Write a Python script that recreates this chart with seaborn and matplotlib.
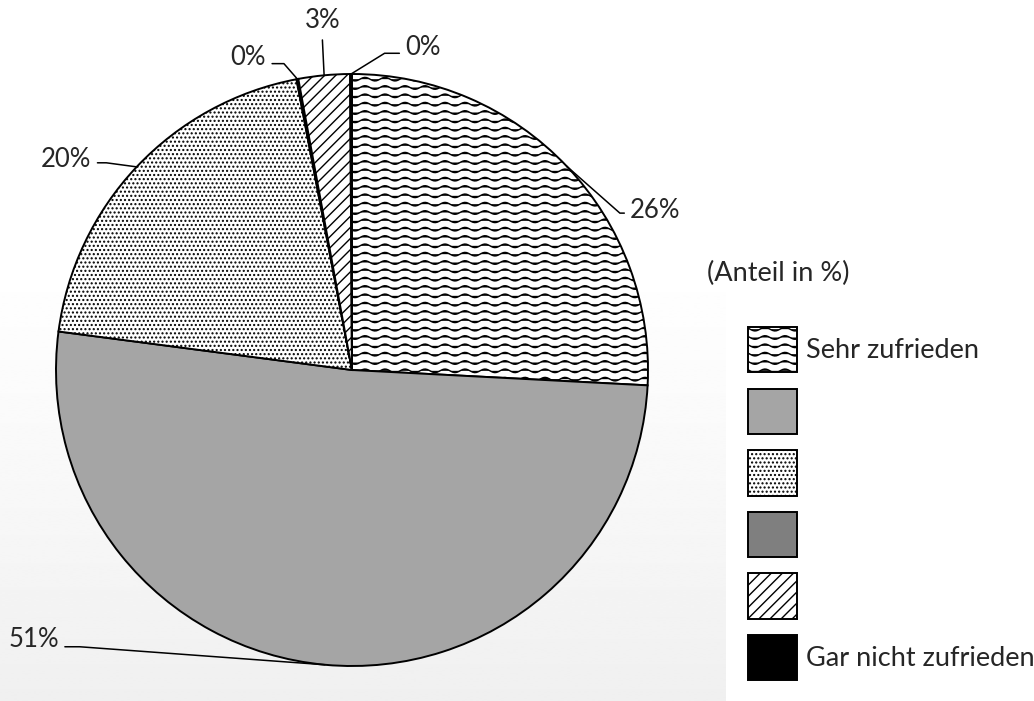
import warnings
import numpy as np
import seaborn as sns
import matplotlib.pyplot as plt
import matplotlib.hatch as mhatch
from matplotlib.path import Path
from matplotlib.patches import Patch

warnings.filterwarnings("ignore")

categories = ["Sehr zufrieden", "", "", "", "", "Gar nicht zufrieden"]
shares = [25.8, 51.2, 19.9, 0.1, 2.8, 0.1]
pct_labels = ["26%", "51%", "20%", "0%", "3%", "0%"]
colors = ["white", "#a5a5a5", "white", "#7f7f7f", "white", "black"]
hatches = ["~~", "", "....", "", "///", ""]

# label placement (data units, pie radius = 1): text pos, elbow, align
label_pos = [(0.94, 0.54), (-0.99, -0.91), (-0.88, 0.71), (-0.29, 1.055), (-0.10, 1.18), (0.18, 1.09)]
elbows = [(0.905, 0.53), (-0.92, -0.935), (-0.83, 0.70), (-0.23, 1.035), (-0.10, 1.115), (0.11, 1.07)]
aligns = ["left", "right", "right", "right", "center", "left"]


class WaveHatch(mhatch.HatchPatternBase):
    n_pts = 60
    n_waves = 5

    def __init__(self, hatch, density):
        self.num_lines = int(hatch.count("~") * density)
        self.num_vertices = self.num_lines * self.n_pts

    def set_vertices_and_codes(self, vertices, codes):
        t = np.linspace(0, 1, self.n_pts)
        for i in range(self.num_lines):
            y0 = (i + 0.5) / self.num_lines
            s = slice(i * self.n_pts, (i + 1) * self.n_pts)
            vertices[s, 0] = t
            vertices[s, 1] = y0 + 0.018 * np.sin(2 * np.pi * self.n_waves * t)
            codes[s] = Path.LINETO
            codes[i * self.n_pts] = Path.MOVETO


mhatch._hatch_types.append(WaveHatch)

sns.set_style("white")
plt.rcParams["font.family"] = ["Lato", "DejaVu Sans"]
plt.rcParams["hatch.linewidth"] = 1.0

W, H = 1034, 701
fig = plt.figure(figsize=(W / 100, H / 100), dpi=100)

# soft gradient behind the plot area: white on top, light grey at the bottom
bg = fig.add_axes([0, 0, 726 / W, 1])
yy = np.linspace(0, 1, 256)
grad = 1.0 - 0.06 * np.clip((yy - 0.35) / 0.65, 0, 1) ** 1.2
bg.imshow(grad.reshape(-1, 1), cmap="gray", vmin=0, vmax=1, aspect="auto",
          extent=(0, 1, 0, 1), interpolation="bilinear")
bg.axis("off")

cx, cy, R = 352, 370, 296
ax = fig.add_axes([0, 0, 1, 1])
ax.patch.set_alpha(0)

wedges, _ = ax.pie(shares, colors=colors, startangle=90, counterclock=False, radius=1,
                   wedgeprops=dict(edgecolor="black", linewidth=1.4))
for w, h in zip(wedges, hatches):
    w.set_hatch(h)

ax.set_xlim(-cx / R, (W - cx) / R)
ax.set_ylim(-(H - cy) / R, cy / R)
ax.set_aspect("equal")
ax.axis("off")

for w, lab, (tx, ty), (ex, ey), ha in zip(wedges, pct_labels, label_pos, elbows, aligns):
    mid = np.deg2rad((w.theta1 + w.theta2) / 2)
    px, py = np.cos(mid), np.sin(mid)
    if ha == "center":
        xs, ys = [px, ex], [py, ey]
    else:
        end = tx - 0.02 if ha == "left" else tx + 0.02
        xs, ys = [px, ex, end], [py, ey, ey]
    ax.text(tx, ty, lab, ha=ha, va="center", fontsize=18.5)
    ax.plot(xs, ys, color="black", lw=1.1)

fig.text(707 / W, 1 - 273 / H, "(Anteil in %)", ha="left", va="center", fontsize=19.5)

handles = [Patch(facecolor=c, edgecolor="black", hatch=h, linewidth=1.4) for c, h in zip(colors, hatches)]
fig.legend(handles, categories, loc="upper left", bbox_to_anchor=(748 / W, 1 - 327 / H),
           frameon=False, fontsize=19.5, handlelength=1.8, handleheight=2.2,
           labelspacing=0.6, handletextpad=0.35, borderpad=0, borderaxespad=0)

fig.savefig("out.png", dpi=100)
